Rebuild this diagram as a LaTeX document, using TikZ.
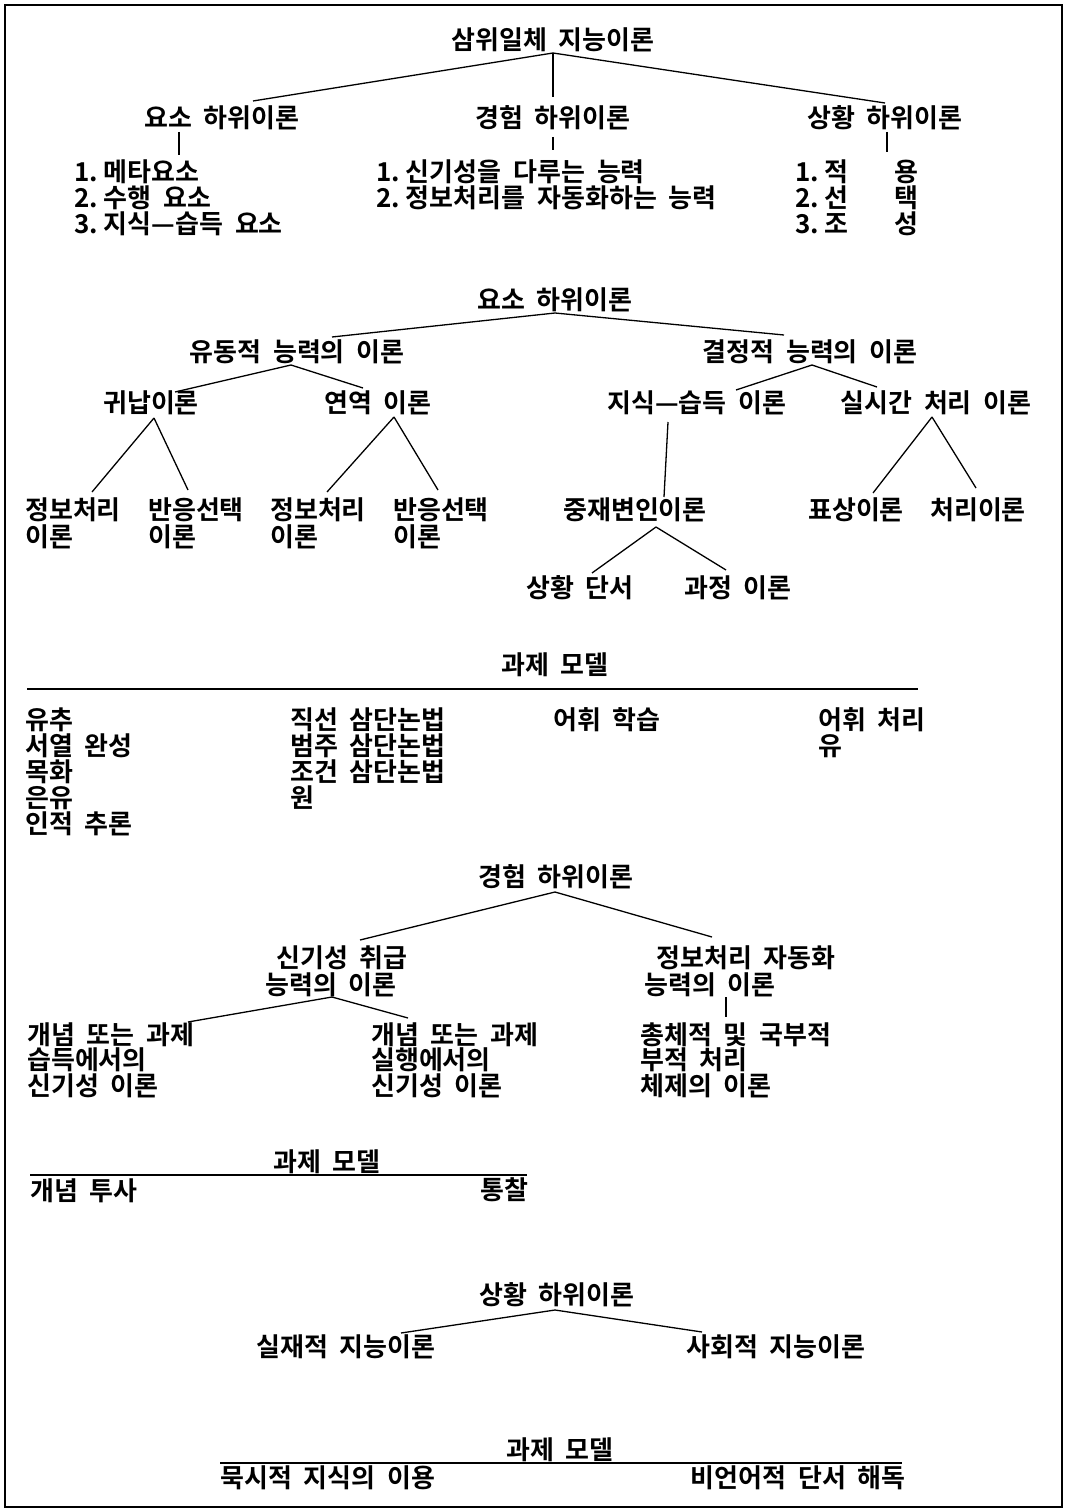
\documentclass[tikz,border=0pt]{standalone}
\usepackage{fontspec}
\setmainfont{Noto Sans CJK KR}[WordSpace=2.0, BoldFont={Noto Sans CJK KR Bold}]
\usetikzlibrary{calc}
\newcommand{\numgap}{\kern6pt}
\begin{document}
\begin{tikzpicture}[x=1pt,y=-1pt,
  lab/.style={inner sep=0pt, font=\fontsize{26}{29}\selectfont\bfseries, text height=20.5pt, text depth=1.5pt},
  lw/.style={lab, anchor=west},
  le/.style={lab, anchor=east},
  conn/.style={line width=1.3pt},
  rule/.style={line width=1.4pt}]
\useasboundingbox (0,0) rectangle (1068,1511);
\fill[white] (0,0) rectangle (1068,1511);
\draw[line width=1.6pt] (5,5) rectangle (1062,1507);

% ---------- section 1 ----------
\node[lab] (t) at (553,40) {삼위일체 지능이론};
\node[lab] (c1) at (222,118) {요소 하위이론};
\node[lab] (e1) at (553,118) {경험 하위이론};
\node[lab] (s1) at (885,118) {상황 하위이론};
\node[lw] (c1a) at (74,172) {1.\numgap 메타요소};
\node[lw] (c1b) at (74,198) {2.\numgap 수행 요소};
\node[lw] (c1c) at (74,224) {3.\numgap 지식—습득 요소};
\node[lw] (e1a) at (376,172) {1.\numgap 신기성을 다루는 능력};
\node[lw] (e1b) at (376,198) {2.\numgap 정보처리를 자동화하는 능력};
\node[lw] (s1a) at (795,172) {1.\numgap 적\hspace{46pt}용};
\node[lw] (s1b) at (795,198) {2.\numgap 선\hspace{46pt}택};
\node[lw] (s1c) at (795,224) {3.\numgap 조\hspace{46pt}성};
\draw[conn] ($(t)+(0,13)$) -- ($(c1)+(31,-17)$);
\draw[conn] ($(t)+(0,13)$) -- ($(e1)+(0,-21)$);
\draw[conn] ($(t)+(0,13)$) -- ($(s1)+(0,-15)$);
\draw[conn] ($(c1)+(-43,14)$) -- ($(c1a.west)+(105,-17)$);
\draw[conn] ($(e1)+(0,19)$) -- ($(e1a.west)+(177,-22)$);
\draw[conn] ($(s1)+(2,14)$) -- ($(s1a.west)+(92,-20)$);

% ---------- section 2 ----------
\node[lab] (c2) at (555,300) {요소 하위이론};
\node[lab] (fl) at (297,352) {유동적 능력의 이론};
\node[lab] (cr) at (810,352) {결정적 능력의 이론};
\node[lab] (ind) at (151,403) {귀납이론};
\node[lab] (ded) at (378,403) {연역 이론};
\node[lab] (ka) at (697,403) {지식—습득 이론};
\node[lab] (rt) at (936,403) {실시간 처리 이론};
\node[lw] (ip1) at (25,510) {정보처리};
\node[lw] (ip1b) at (25,537) {이론};
\node[lw] (rs1) at (148,510) {반응선택};
\node[lw] (rs1b) at (148,537) {이론};
\node[lw] (ip2) at (270,510) {정보처리};
\node[lw] (ip2b) at (270,537) {이론};
\node[lw] (rs2) at (393,510) {반응선택};
\node[lw] (rs2b) at (393,537) {이론};
\node[lab] (med) at (635,510) {중재변인이론};
\node[lab] (rep) at (856,510) {표상이론};
\node[lab] (proc) at (978,510) {처리이론};
\node[lab] (sc) at (580,588) {상황 단서};
\node[lab] (pt) at (738,588) {과정 이론};
\draw[conn] ($(c2)+(0,13)$) -- ($(fl)+(35,-15)$);
\draw[conn] ($(c2)+(0,13)$) -- ($(cr)+(-26,-17)$);
\draw[conn] ($(fl)+(-6,13)$) -- ($(ind)+(24,-11)$);
\draw[conn] ($(fl)+(-6,13)$) -- ($(ded)+(-15,-15)$);
\draw[conn] ($(cr)+(2,13)$) -- ($(ka)+(39,-13)$);
\draw[conn] ($(cr)+(2,13)$) -- ($(rt)+(-59,-16)$);
\draw[conn] ($(ind)+(3,15)$) -- ($(ip1.west)+(67,-18)$);
\draw[conn] ($(ind)+(3,15)$) -- ($(rs1.west)+(40,-20)$);
\draw[conn] ($(ded)+(16,14)$) -- ($(ip2.west)+(57,-18)$);
\draw[conn] ($(ded)+(16,14)$) -- ($(rs2.west)+(45,-20)$);
\draw[conn] ($(ka)+(-29,19)$) -- ($(med)+(29,-13)$);
\draw[conn] ($(rt)+(-4,14)$) -- ($(rep)+(17,-17)$);
\draw[conn] ($(rt)+(-4,14)$) -- ($(proc)+(-2,-22)$);
\draw[conn] ($(med)+(21,17)$) -- ($(sc)+(12,-15)$);
\draw[conn] ($(med)+(21,17)$) -- ($(pt)+(-12,-18)$);

% ---------- section 3 ----------
\node[lab] (tm1) at (555,665) {과제 모델};
\draw[rule] (27,689) -- (918,689);
\node[lw] (a1) at (25,720) {유추};
\node[lw] (a2) at (25,746) {서열 완성};
\node[lw] (a3) at (25,772) {목화};
\node[lw] (a4) at (25,798) {은유};
\node[lw] (a5) at (25,824) {인적 추론};
\node[lw] (b1) at (290,720) {직선 삼단논법};
\node[lw] (b2) at (290,746) {범주 삼단논법};
\node[lw] (b3) at (290,772) {조건 삼단논법};
\node[lw] (b4) at (290,798) {원};
\node[lw] (d1) at (553,720) {어휘 학습};
\node[lw] (f1) at (818,720) {어휘 처리};
\node[lw] (f2) at (818,746) {유};

% ---------- section 4 ----------
\node[lab] (e2) at (556,877) {경험 하위이론};
\node[lab] (nh1) at (342,958) {신기성 취급};
\node[lab] (nh2) at (331,985) {능력의 이론};
\node[lab] (pa1) at (746,958) {정보처리 자동화};
\node[lab] (pa2) at (710,985) {능력의 이론};
\node[lw] (cc1) at (27,1035) {개념 또는 과제};
\node[lw] (cc2) at (27,1060) {습득에서의};
\node[lw] (cc3) at (27,1086) {신기성 이론};
\node[lw] (ce1) at (371,1035) {개념 또는 과제};
\node[lw] (ce2) at (371,1060) {실행에서의};
\node[lw] (ce3) at (371,1086) {신기성 이론};
\node[lw] (hl1) at (640,1035) {총체적 및 국부적};
\node[lw] (hl2) at (640,1060) {부적 처리};
\node[lw] (hl3) at (640,1086) {체제의 이론};
\draw[conn] ($(e2)+(-1,15)$) -- ($(nh1)+(18,-18)$);
\draw[conn] ($(e2)+(-1,15)$) -- ($(pa1)+(-34,-21)$);
\draw[conn] ($(nh2)+(1,12)$) -- ($(cc1.west)+(161,-13)$);
\draw[conn] ($(nh2)+(1,12)$) -- ($(ce1.west)+(37,-17)$);
\draw[conn] ($(pa2)+(16,12)$) -- ($(hl1.west)+(86,-18)$);

% ---------- section 5 ----------
\node[lab] (tm2) at (327,1162) {과제 모델};
\draw[rule] (30,1175) -- (527,1175);
\node[lw] (cp) at (30,1191) {개념 투사};
\node[le] (ins) at (529,1190) {통찰};

% ---------- section 6 ----------
\node[lab] (s2) at (557,1295) {상황 하위이론};
\node[lab] (pr) at (346,1347) {실재적 지능이론};
\node[lab] (so) at (776,1347) {사회적 지능이론};
\draw[conn] ($(s2)+(-2,15)$) -- ($(pr)+(55,-14)$);
\draw[conn] ($(s2)+(-2,15)$) -- ($(so)+(-74,-15)$);

% ---------- section 7 ----------
\node[lab] (tm3) at (560,1450) {과제 모델};
\draw[rule] (220,1463) -- (902,1463);
\node[lw] (tk) at (220,1478) {묵시적 지식의 이용};
\node[le] (nv) at (906,1478) {비언어적 단서 해독};
\end{tikzpicture}
\end{document}
